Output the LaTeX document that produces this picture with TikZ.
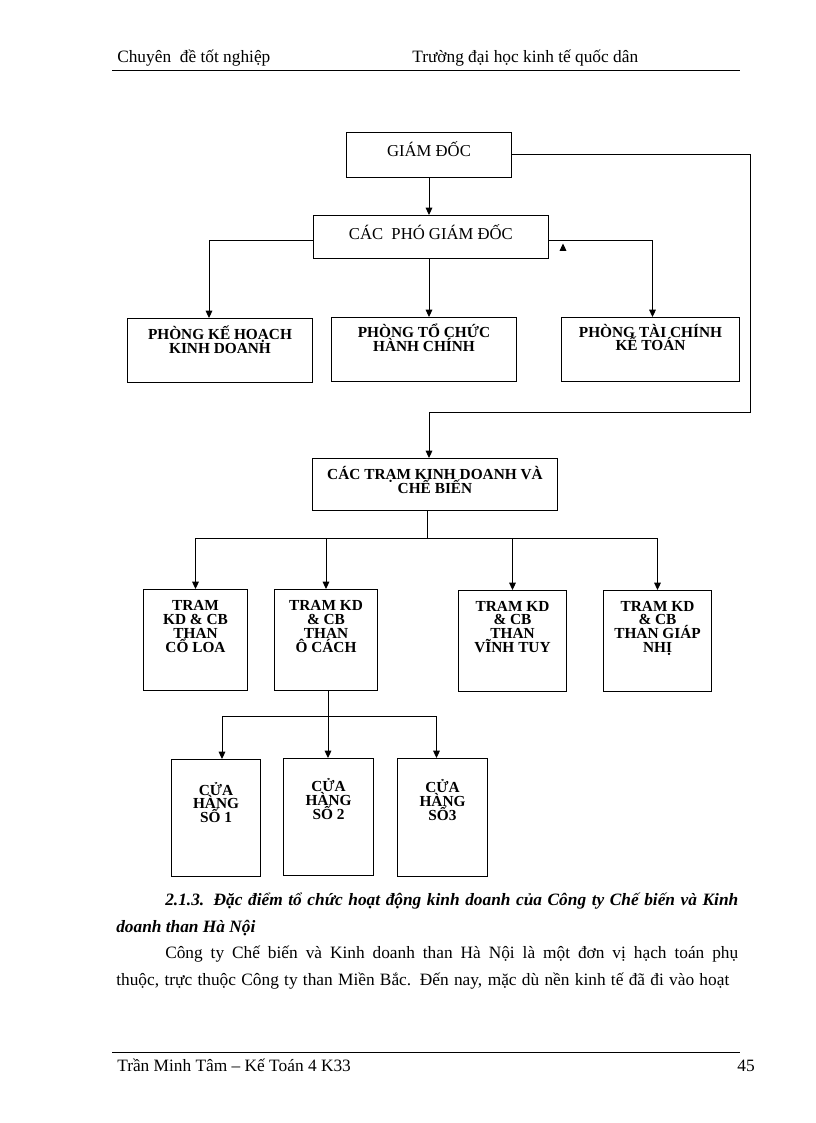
\documentclass[tikz,border=0pt]{standalone}
\usepackage{fontspec}
\setmainfont{Liberation Serif}
\usetikzlibrary{calc, arrows.meta, positioning}

\newcommand\boxfont{\fontsize{11.5}{10.4}\selectfont\bfseries\lineskiplimit -20pt\relax}

\tikzset{
  box/.style={draw, line width=0.75pt, inner sep=0pt, anchor=north west},
  lbl/.style={inner sep=0pt, align=center, anchor=north, font=\boxfont},
  head/.style={inner sep=0pt, anchor=base, font=\fontsize{12.5}{14}\selectfont},
  arr/.style={line width=0.75pt, -{Triangle[length=5.5pt,width=5pt]}},
  ln/.style={line width=0.75pt},
  txt/.style={inner sep=0pt, anchor=base west, font=\fontsize{13}{15}\selectfont},
}

\begin{document}
\begin{tikzpicture}[x=0.75pt, y=-0.75pt]
      \useasboundingbox (0,0) rectangle (816,1123);

      % header and footer
      \node[txt] (head1) at (117,63) {Chuyên\ \ đề tốt nghiệp};
      \node[txt] (head2) at (412,63) {Trường đại học kinh tế quốc dân};
      \draw[line width=0.6pt] (112,70) -- (740,70);
      \draw[line width=0.6pt] (112,1052) -- (740,1052);
      \node[txt] (foot1) at (117,1071) {Trần Minh Tâm – Kế Toán 4 K33};
      \node[txt, anchor=base east] (foot2) at (755,1071) {45};

      % boxes
      \node[box, minimum width=123.75pt, minimum height=33.75pt] (gd) at (346,132) {};
      \node[box, minimum width=176pt, minimum height=32.25pt] (cpgd) at (313,215) {};
      \node[head] (gdtxt) at ($(gd.center)+(0,1.5)$) {GIÁM ĐỐC};
      \node[head] (cpgdtxt) at ($(cpgd.center)+(0,2.5)$) {CÁC\ \ PHÓ GIÁM ĐỐC};

      \node[box, minimum width=138.75pt, minimum height=48pt] (pkh) at (127,318) {};
      \node[box, minimum width=138.75pt, minimum height=48pt] (ptc) at (331,317) {};
      \node[box, minimum width=133.5pt, minimum height=48pt] (ptckt) at (561,317) {};
      \node[lbl, below=6pt of pkh.north] (pkhtxt) {PHÒNG KẾ HOẠCH\\KINH DOANH};
      \node[lbl, below=5pt of ptc.north] (ptctxt) {PHÒNG TỔ CHỨC\\HÀNH CHÍNH};
      \node[lbl, below=5pt of ptckt.north] (ptckttxt) {PHÒNG TÀI CHÍNH\\KẾ TOÁN};

      \node[box, minimum width=183.75pt, minimum height=39pt] (ctkd) at (312,458) {};
      \node[lbl, below=6pt of ctkd.north] (ctkdtxt) {CÁC TRẠM KINH DOANH VÀ\\CHẾ BIẾN};

      \node[box, minimum width=78pt, minimum height=75.75pt] (t1) at (143,589) {};
      \node[box, minimum width=77.25pt, minimum height=75.75pt] (t2) at (274,589) {};
      \node[box, minimum width=81pt, minimum height=75.75pt] (t3) at (458,590) {};
      \node[box, minimum width=81pt, minimum height=75.75pt] (t4) at (603,590) {};
      \node[lbl, below=8.5pt of t1.north] (t1txt) {TRAM\\KD \& CB\\THAN\\CỔ LOA};
      \node[lbl, below=8.5pt of t2.north] (t2txt) {TRAM KD\\\& CB\\THAN\\Ô CÁCH};
      \node[lbl, below=8pt of t3.north] (t3txt) {TRAM KD\\\& CB\\THAN\\VĨNH TUY};
      \node[lbl, below=8pt of t4.north] (t4txt) {TRAM KD\\\& CB\\THAN GIÁP\\NHỊ};

      \node[box, minimum width=66.75pt, minimum height=87.75pt] (ch1) at (171,759) {};
      \node[box, minimum width=67.5pt, minimum height=87.75pt] (ch2) at (283,758) {};
      \node[box, minimum width=67.5pt, minimum height=88.5pt] (ch3) at (397,758) {};
      \node[lbl, below=17pt of ch1.north] (ch1txt) {CỬA\\HÀNG\\SỐ 1};
      \node[lbl, below=15pt of ch2.north] (ch2txt) {CỬA\\HÀNG\\SỐ 2};
      \node[lbl, below=16pt of ch3.north] (ch3txt) {CỬA\\HÀNG\\SỐ3};

      % connectors
      \coordinate (turn) at (750,412);
      \coordinate (tip) at (563,243.5);
      \draw[arr] (gd.south) -- (gd.south |- cpgd.north);
      \draw[arr] (gd.east) -| (turn) -| (gd.south |- ctkd.north);
      \draw[arr] ($(cpgd.west)+(0,3)$) -| ($(pkh.north)+(-11,0)$);
      \draw[arr] (gd.south |- cpgd.south) -- (gd.south |- ptc.north);
      \draw[arr] ($(cpgd.east)+(0,3)$) -| ($(ptckt.north)+(2,0)$);
      \draw[arr] ($(tip)+(0,6)$) -- (tip);

      \coordinate (bus) at ($(gd.south |- ctkd.south)+(-2,27)$);
      \draw[ln] (gd.south |- ctkd.south) ++(-2,0) -- (bus);
      \draw[ln] (t1.north |- bus) -- (t4.north |- bus);
      \foreach \t in {t1,t2,t3,t4}
        \draw[arr] (\t.north |- bus) -- (\t.north);

      \coordinate (bus2) at ($(t2.south)+(2,25)$);
      \draw[ln] ($(t2.south)+(2,0)$) -- (bus2);
      \draw[ln] ($(ch1.north |- bus2)+(6,0)$) -- ($(ch3.north |- bus2)+(-6,0)$);
      \draw[arr] ($(ch1.north |- bus2)+(6,0)$) -- ($(ch1.north)+(6,0)$);
      \draw[arr] (bus2) -- (bus2 |- ch2.north);
      \draw[arr] ($(ch3.north |- bus2)+(-6,0)$) -- ($(ch3.north)+(-6,0)$);

      % text below the chart
      \node[txt, font=\fontsize{13}{15}\selectfont\bfseries\itshape] (sec1) at (165,905)
        {\makebox[429.75pt][s]{2.1.3. Đặc điểm tổ chức hoạt động kinh doanh của Công ty Chế biến và Kinh}};
      \node[txt, font=\fontsize{13}{15}\selectfont\bfseries\itshape] (sec2) at (116,932)
        {doanh than Hà Nội};
      \node[txt] (par1) at (165,958)
        {\makebox[429.75pt][s]{Công ty Chế biến và Kinh doanh than Hà Nội là một đơn vị hạch toán phụ}};
      \node[txt] (par2) at (116,985)
        {\makebox[459.75pt][s]{thuộc, trực thuộc Công ty than Miền Bắc. Đến nay, mặc dù nền kinh tế đã đi vào hoạt}};
\end{tikzpicture}
\end{document}
